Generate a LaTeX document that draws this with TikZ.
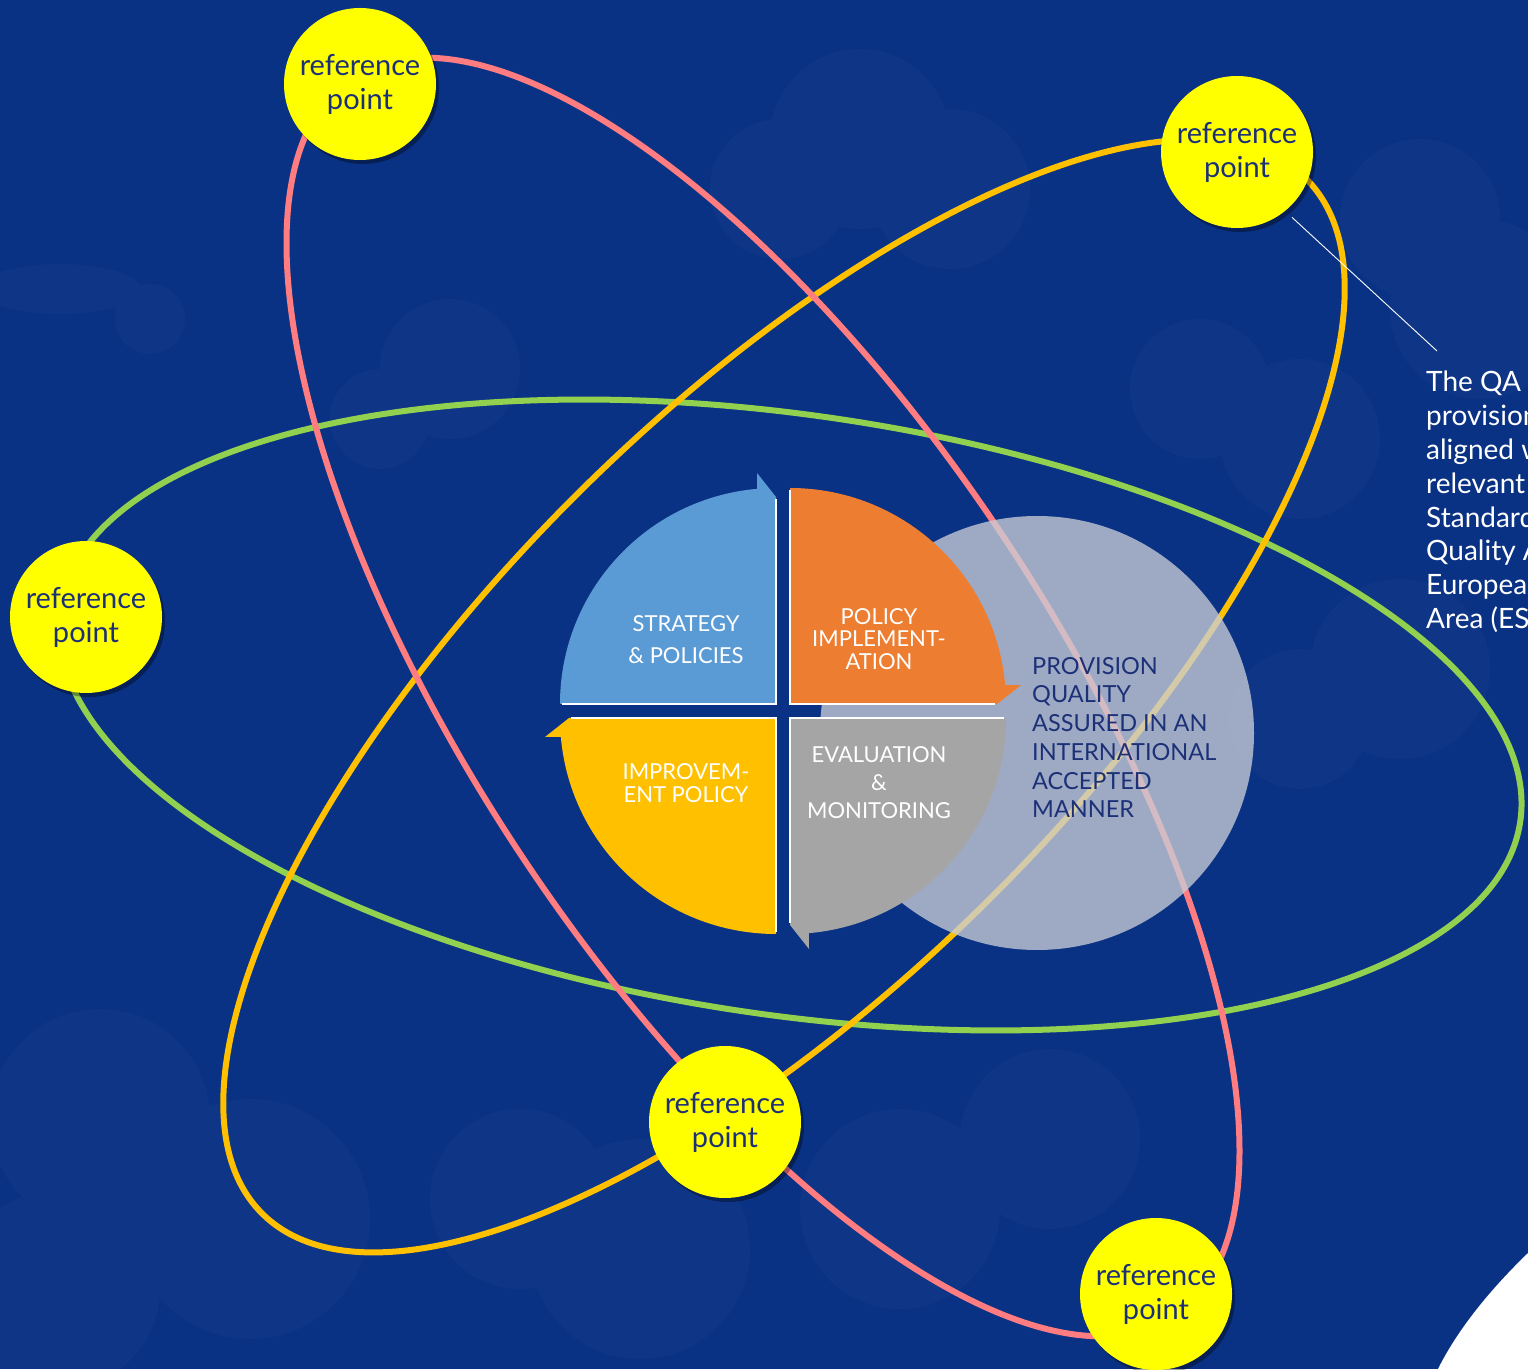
\documentclass[tikz,border=0pt]{standalone}
\usepackage{fontspec}
\setmainfont{Lato}
\usetikzlibrary{shadows}
\definecolor{bgblue}{RGB}{10,50,132}
\definecolor{navy}{RGB}{28,48,120}
\definecolor{redline}{RGB}{255,124,128}
\definecolor{goldline}{RGB}{255,192,0}
\definecolor{greenline}{RGB}{146,208,80}
\definecolor{qblue}{RGB}{91,155,213}
\definecolor{qorange}{RGB}{237,125,49}
\definecolor{qgray}{RGB}{165,165,165}
\definecolor{qyellow}{RGB}{255,192,0}
\definecolor{refyellow}{RGB}{255,255,0}
\definecolor{haze}{RGB}{200,205,215}
\begin{document}
\begin{tikzpicture}[x=1pt,y=1pt,
  orbit/.style={line width=6pt},
  cloud/.style={fill=white,opacity=0.025},
  refpt/.style={circle, fill=refyellow, minimum size=152pt, inner sep=0pt,
    font=\fontsize{29}{34}\selectfont, text=navy, align=center,
    drop shadow={opacity=0.35,shadow xshift=3pt,shadow yshift=-4pt,fill=black}},
  qedge/.style={white,line width=2pt},
  qtext/.style={text=white, align=center, inner sep=0pt}
]
\useasboundingbox (0,0) rectangle (1528,1369);
\fill[bgblue] (0,0) rectangle (1528,1369);
% faint clouds
\fill[cloud] (860,1230) circle (90) (780,1180) circle (70) (950,1180) circle (80);
\fill[cloud] (1420,1150) circle (80) (1480,1060) circle (90) (1200,980) circle (70) (1300,930) circle (80);
\fill[cloud] (1400,700) circle (90) (1300,650) circle (70);
\fill[cloud] (60,1080) ellipse (80 and 25) (150,1050) circle (35);
\fill[cloud] (100,250) circle (110) (250,150) circle (120) (60,80) circle (100);
\fill[cloud] (520,170) circle (90) (640,120) circle (110) (900,160) circle (100) (1050,230) circle (90);
\fill[cloud] (450,1000) circle (70) (380,950) circle (50);

% orbits
\draw[orbit,greenline] (790,654) [rotate around={-8.3:(790,654)}] ellipse (738 and 300);
\draw[orbit,goldline] (784,673) [rotate around={44.7:(784,673)}] ellipse (735 and 289);
\draw[orbit,redline] (763,672) [rotate around={-56.4:(763,672)}] ellipse (743 and 289);

% translucent outcome disc
\fill[haze,opacity=0.78] (1037,636) circle (217);

% quadrants
\begin{scope}[shift={(776,665)}]
  \fill[qblue] (0,0) -- (-216,0) arc[start angle=180,end angle=95,radius=216] -- (-19,231) -- (0,207) -- cycle;
  \draw[qedge] (-214,0) -- (0,0) -- (0,205);
\end{scope}
\begin{scope}[shift={(790,665)},rotate=-90]
  \fill[qorange] (0,0) -- (-216,0) arc[start angle=180,end angle=95,radius=216] -- (-19,231) -- (0,207) -- cycle;
  \draw[qedge] (-214,0) -- (0,0) -- (0,205);
\end{scope}
\begin{scope}[shift={(790,651)},rotate=180]
  \fill[qgray] (0,0) -- (-216,0) arc[start angle=180,end angle=95,radius=216] -- (-19,231) -- (0,207) -- cycle;
  \draw[qedge] (-214,0) -- (0,0) -- (0,205);
\end{scope}
\begin{scope}[shift={(776,651)},rotate=90]
  \fill[qyellow] (0,0) -- (-216,0) arc[start angle=180,end angle=95,radius=216] -- (-19,231) -- (0,207) -- cycle;
  \draw[qedge] (-214,0) -- (0,0) -- (0,205);
\end{scope}

\node[qtext,font=\fontsize{22}{32}\selectfont] (strat) at (686,729) {STRATEGY\\\& POLICIES};
\node[qtext,font=\fontsize{22}{22.5}\selectfont] (impl) at (879,730) {POLICY\\IMPLEMENT-\\ATION};
\node[qtext,font=\fontsize{22}{23.5}\selectfont] (improv) at (686,586) {IMPROVEM-\\ENT POLICY};
\node[qtext,font=\fontsize{22}{28}\selectfont] (eval) at (879,586) {EVALUATION\\\&\\MONITORING};

\node[anchor=north west, inner sep=0pt, align=left, text=navy,
  font=\fontsize{23.5}{28.7}\selectfont] (prov) at (1032,712)
  {PROVISION\\QUALITY\\ASSURED IN AN\\INTERNATIONAL\\ACCEPTED\\MANNER};

% reference points
\node[refpt] (r1) at (360,1285) {reference\\point};
\node[refpt] (r2) at (1237,1217) {reference\\point};
\node[refpt] (r3) at (86,752) {reference\\point};
\node[refpt] (r4) at (725,247) {reference\\point};
\node[refpt] (r5) at (1156,75) {reference\\point};

% callout
\coordinate (qaend) at (1437,1018);
\draw[white,line width=0.9pt] ([shift={(6,-7)}]r2.-50) -- (qaend);
\node[anchor=north west, inner sep=0pt, align=left, text=white,
  font=\fontsize{28}{33.8}\selectfont] (qa) at (1426,998)
  {The QA p\\provision\\aligned w\\relevant\\Standard\\Quality A\\Europea\\Area (ES};

% white corner
\fill[white] (1528,116) .. controls (1495,84) and (1460,44) .. (1438,0) -- (1528,0) -- cycle;
\end{tikzpicture}
\end{document}
